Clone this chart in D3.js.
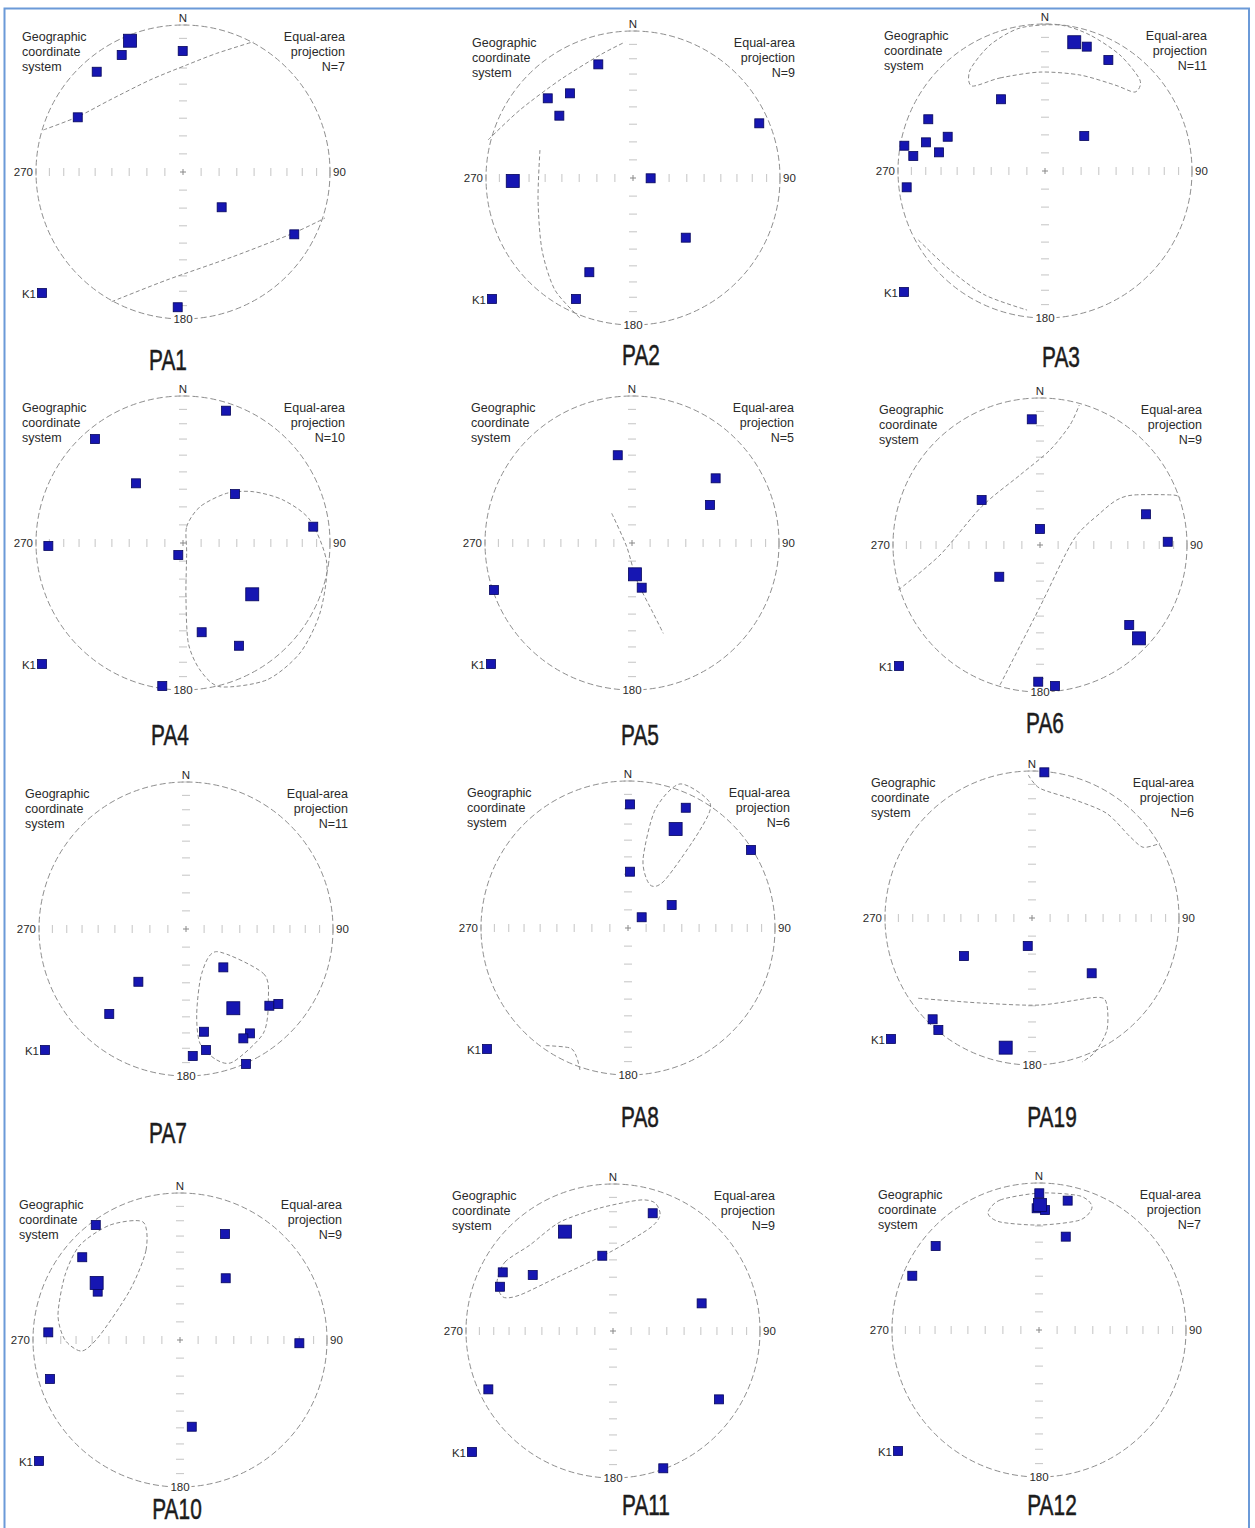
<!DOCTYPE html>
<html>
<head>
<meta charset="utf-8">
<script src="https://cdn.jsdelivr.net/npm/d3@7"></script>
<style>
  body { margin: 0; background: #fff; }
  svg { display: block; }
</style>
</head>
<body>
<script>
// ---------------------------------------------------------------
// AMS stereonets (lower hemisphere, equal-area) for twelve sites.
// Directions are stored as projected [east, north] coordinates,
// in units of the primitive-circle radius.
// ---------------------------------------------------------------

const siteNames    = ["PA1", "PA2", "PA3", "PA4", "PA5", "PA6", "PA7", "PA8", "PA19", "PA10", "PA11", "PA12"];
const sampleCounts = [7, 9, 11, 10, 5, 9, 11, 6, 6, 9, 9, 7];

// K1 axes of individual specimens and the site mean K1
const PA1_dirs = [[-0.417,0.796],[-0.002,0.823],[-0.587,0.682],[-0.716,0.372],[0.263,-0.240],[0.757,-0.424],[-0.036,-0.920]];
const PA1_mean = [-0.360, 0.893];
const PA2_dirs = [[-0.236,0.773],[-0.429,0.576],[-0.580,0.542],[-0.501,0.424],[0.859,0.372],[0.120,-0.002],[0.359,-0.406],[-0.297,-0.641],[-0.388,-0.823]];
const PA2_mean = [-0.818, -0.020];
const PA3_dirs = [[0.284,0.846],[0.431,0.755],[-0.299,0.488],[0.267,0.238],[-0.794,0.352],[-0.662,0.233],[-0.810,0.195],[-0.957,0.172],[-0.721,0.127],[-0.896,0.102],[-0.941,-0.111]];
const PA3_mean = [0.199, 0.876];
const PA4_dirs = [[0.293,0.900],[-0.599,0.707],[-0.320,0.406],[0.354,0.333],[0.886,0.111],[-0.916,-0.020],[-0.032,-0.082],[0.127,-0.607],[0.381,-0.699],[-0.141,-0.973]];
const PA4_mean = [0.471, -0.349];
const PA5_dirs = [[-0.097,0.597],[0.569,0.440],[0.531,0.259],[0.066,-0.304],[-0.939,-0.320]];
const PA5_mean = [0.020, -0.213];
const PA6_dirs = [[-0.056,0.855],[-0.397,0.306],[0.000,0.109],[0.721,0.209],[0.869,0.022],[-0.277,-0.216],[0.607,-0.544],[-0.012,-0.930],[0.102,-0.959]];
const PA6_mean = [0.673, -0.635];
const PA7_dirs = [[0.254,-0.261],[-0.324,-0.359],[-0.522,-0.578],[0.567,-0.522],[0.628,-0.510],[0.122,-0.699],[0.435,-0.710],[0.390,-0.744],[0.136,-0.823],[0.046,-0.864],[0.408,-0.918]];
const PA7_mean = [0.322, -0.539];
const PA8_dirs = [[0.014,0.841],[0.393,0.818],[0.837,0.531],[0.014,0.383],[0.297,0.156],[0.093,0.073]];
const PA8_mean = [0.324, 0.673];
const PA19_dirs = [[0.084,0.991],[-0.029,-0.190],[-0.463,-0.259],[0.406,-0.376],[-0.676,-0.689],[-0.637,-0.762]];
const PA19_mean = [-0.179, -0.882];
const PA10_dirs = [[-0.573,0.782],[0.306,0.721],[-0.665,0.563],[-0.560,0.329],[0.311,0.420],[-0.896,0.052],[0.812,-0.022],[-0.884,-0.265],[0.080,-0.590]];
const PA10_mean = [-0.567, 0.388];
const PA11_dirs = [[0.270,0.801],[-0.073,0.512],[-0.750,0.399],[-0.546,0.381],[-0.769,0.301],[0.603,0.188],[-0.848,-0.397],[0.721,-0.465],[0.342,-0.934]];
const PA11_mean = [-0.327, 0.676];
const PA12_dirs = [[0.002,0.930],[-0.016,0.828],[0.041,0.816],[0.195,0.880],[0.182,0.635],[-0.703,0.571],[-0.862,0.369]];
const PA12_mean = [0.007, 0.850];

// Confidence regions and great circles (closed = confidence ellipse)
const PA1_curves = [
  { closed: false, pts: [[-0.950,0.286],[-0.716,0.376],[-0.497,0.490],[-0.224,0.626],[0.025,0.728],[0.229,0.807],[0.478,0.886]] },
  { closed: false, pts: [[-0.485,-0.882],[-0.111,-0.735],[0.340,-0.576],[0.748,-0.417],[0.966,-0.313]] }
];
const PA2_curves = [
  { closed: false, pts: [[-0.986,0.259],[-0.769,0.463],[-0.497,0.667],[-0.224,0.837],[-0.054,0.925]] },
  { closed: false, pts: [[-0.633,0.190],[-0.646,-0.150],[-0.619,-0.490],[-0.531,-0.762],[-0.361,-0.952]] }
];
const PA3_curves = [
  { closed: true,  pts: [[-0.497,0.578],[-0.306,0.633],[-0.034,0.673],[0.238,0.653],[0.476,0.585],[0.612,0.537],[0.646,0.619],[0.510,0.789],[0.306,0.925],[0.102,0.993],[-0.170,0.973],[-0.374,0.857],[-0.510,0.687]] },
  { closed: false, pts: [[-0.862,-0.469],[-0.646,-0.673],[-0.408,-0.844],[-0.122,-0.946]] }
];
const PA4_curves = [
  { closed: true,  pts: [[0.025,-0.068],[0.025,0.111],[0.116,0.247],[0.297,0.338],[0.478,0.349],[0.680,0.293],[0.864,0.156],[0.978,-0.136],[0.932,-0.476],[0.796,-0.748],[0.569,-0.932],[0.252,-0.978],[0.116,-0.864],[0.036,-0.680],[0.020,-0.365]] }
];
const PA5_curves = [
  { closed: false, pts: [[-0.138,0.202],[-0.036,-0.025],[0.032,-0.252],[0.145,-0.479],[0.213,-0.615]] }
];
const PA6_curves = [
  { closed: false, pts: [[-0.964,-0.306],[-0.680,-0.068],[-0.397,0.261],[-0.136,0.476],[0.068,0.646],[0.204,0.816],[0.267,0.952]] },
  { closed: false, pts: [[-0.272,-0.952],[0.000,-0.420],[0.227,0.034],[0.408,0.216],[0.522,0.306],[0.635,0.340],[0.907,0.340],[0.952,0.318]] }
];
const PA7_curves = [
  { closed: true,  pts: [[0.209,-0.154],[0.526,-0.302],[0.560,-0.484],[0.526,-0.710],[0.322,-0.903],[0.209,-0.891],[0.095,-0.778],[0.073,-0.574],[0.107,-0.302]] }
];
const PA8_curves = [
  { closed: true,  pts: [[0.354,0.980],[0.558,0.850],[0.490,0.667],[0.252,0.327],[0.150,0.293],[0.102,0.463],[0.184,0.803]] },
  { closed: false, pts: [[-0.560,-0.800],[-0.395,-0.816],[-0.350,-0.876],[-0.327,-0.966]] }
];
const PA19_curves = [
  { closed: false, pts: [[-0.025,0.973],[0.054,0.882],[0.293,0.803],[0.508,0.712],[0.667,0.553],[0.757,0.481],[0.871,0.508]] },
  { closed: false, pts: [[-0.774,-0.546],[-0.354,-0.578],[0.054,-0.592],[0.440,-0.540],[0.508,-0.585],[0.510,-0.762],[0.429,-0.912],[0.340,-0.980]] }
];
const PA10_curves = [
  { closed: true,  pts: [[-0.252,0.803],[-0.231,0.612],[-0.340,0.340],[-0.544,0.034],[-0.667,-0.075],[-0.782,0.000],[-0.830,0.170],[-0.782,0.442],[-0.680,0.646],[-0.476,0.782]] }
];
const PA11_curves = [
  { closed: true,  pts: [[-0.789,0.333],[-0.735,0.469],[-0.565,0.585],[-0.361,0.741],[-0.088,0.837],[0.184,0.891],[0.286,0.871],[0.320,0.789],[0.252,0.701],[-0.020,0.537],[-0.361,0.374],[-0.633,0.245],[-0.748,0.231]] }
];
const PA12_curves = [
  { closed: true,  pts: [[-0.347,0.796],[-0.265,0.884],[0.007,0.932],[0.279,0.912],[0.361,0.837],[0.279,0.748],[0.007,0.714],[-0.265,0.735]] }
];

// Inclination ticks along the N-S and E-W diameters (degrees)
const inclinationTicks = [0, 10, 20, 30, 40, 50, 60, 70, 80];
const azimuthLabels = ["N", "90", "180", "270"];
const leftNote  = ["Geographic", "coordinate", "system"];
const rightNote = ["Equal-area", "projection"];

// ---------------- layout ----------------
const W = 1255, H = 1528, R = 147;
const panelCenters = [[183,172],[633,178],[1045,171],[183,543],[632,543],[1040,545],[186,929],[628,928],[1032,918],[180,1340],[613,1331],[1039,1330]];
const titleAnchors = [[168,370],[641,365],[1061,367],[170,745],[640,745],[1045,733],[168,1143],[640,1127],[1052,1127],[177,1519],[646,1515],[1052,1515]];

const dirsBySite   = [PA1_dirs, PA2_dirs, PA3_dirs, PA4_dirs, PA5_dirs, PA6_dirs, PA7_dirs, PA8_dirs, PA19_dirs, PA10_dirs, PA11_dirs, PA12_dirs];
const meanBySite   = [PA1_mean, PA2_mean, PA3_mean, PA4_mean, PA5_mean, PA6_mean, PA7_mean, PA8_mean, PA19_mean, PA10_mean, PA11_mean, PA12_mean];
const curvesBySite = [PA1_curves, PA2_curves, PA3_curves, PA4_curves, PA5_curves, PA6_curves, PA7_curves, PA8_curves, PA19_curves, PA10_curves, PA11_curves, PA12_curves];

const INK = "#2a2a2a";
const MARK_FILL = "#1616b2", MARK_EDGE = "#06065c";
const SMALL_FONT = "'Liberation Sans', Arial, sans-serif";
const TITLE_FONT = "'Liberation Sans', Arial, sans-serif";

// equal-area radius of a given inclination (primitive = 1)
const eaRadius = inc => Math.SQRT2 * Math.sin((90 - inc) / 2 * Math.PI / 180);

const svg = d3.select("body").append("svg")
  .attr("width", W).attr("height", H)
  .attr("viewBox", `0 0 ${W} ${H}`);

svg.append("rect").attr("width", W).attr("height", H).attr("fill", "#fff");

// outer frame
svg.append("rect")
  .attr("x", 4.5).attr("y", 8.5)
  .attr("width", 1244.5).attr("height", 1530)
  .attr("fill", "none").attr("stroke", "#6b9ad8").attr("stroke-width", 2);

siteNames.forEach((name, i) => {
  const [cx, cy] = panelCenters[i];
  const x = d3.scaleLinear().domain([-1, 1]).range([cx - R, cx + R]);
  const y = d3.scaleLinear().domain([-1, 1]).range([cy + R, cy - R]);
  const g = svg.append("g").attr("class", "stereonet").attr("id", name);

  // inclination ticks on both diameters
  const tickVals = [];
  inclinationTicks.forEach(t => { const r = eaRadius(t); tickVals.push(r, -r); });
  const ticks = g.append("g").attr("stroke", "#c4c4c4").attr("stroke-width", 1);
  ticks.selectAll("line.h").data(tickVals).join("line").attr("class", "h")
    .attr("x1", d => x(d)).attr("x2", d => x(d))
    .attr("y1", y(0) - 4).attr("y2", y(0) + 4);
  ticks.selectAll("line.v").data(tickVals).join("line").attr("class", "v")
    .attr("y1", d => y(d)).attr("y2", d => y(d))
    .attr("x1", x(0) - 4).attr("x2", x(0) + 4);
  // centre cross
  ticks.append("line").attr("x1", x(0) - 3).attr("x2", x(0) + 3).attr("y1", y(0)).attr("y2", y(0)).attr("stroke", "#888");
  ticks.append("line").attr("y1", y(0) - 3).attr("y2", y(0) + 3).attr("x1", x(0)).attr("x2", x(0)).attr("stroke", "#888");

  // primitive circle
  g.append("circle")
    .attr("cx", x(0)).attr("cy", y(0)).attr("r", x(1) - x(0))
    .attr("fill", "none").attr("stroke", "#8e8e8e").attr("stroke-width", 1)
    .attr("stroke-dasharray", "6,3");

  // confidence regions / planes
  curvesBySite[i].forEach(c => {
    const line = d3.line().x(d => x(d[0])).y(d => y(d[1]))
      .curve(c.closed ? d3.curveCardinalClosed.tension(0.2) : d3.curveCardinal.tension(0.2));
    g.append("path").attr("d", line(c.pts))
      .attr("fill", "none").attr("stroke", "#8a8a8a").attr("stroke-width", 1)
      .attr("stroke-dasharray", "4,2.5");
  });

  // azimuth labels
  const lab = g.append("g").attr("font-family", SMALL_FONT).attr("font-size", 11.5).attr("fill", INK);
  lab.append("text").text(azimuthLabels[0]).attr("x", x(0)).attr("y", y(1) - 3).attr("text-anchor", "middle");
  lab.append("text").text(azimuthLabels[1]).attr("x", x(1) + 3).attr("y", y(0) + 4).attr("text-anchor", "start");
  lab.append("text").text(azimuthLabels[2]).attr("x", x(0)).attr("y", y(-1) + 4).attr("text-anchor", "middle")
    .attr("stroke", "#fff").attr("stroke-width", 4).attr("paint-order", "stroke");
  lab.append("text").text(azimuthLabels[3]).attr("x", x(-1) - 3).attr("y", y(0) + 4).attr("text-anchor", "end");

  // corner notes
  const notes = g.append("g").attr("font-family", SMALL_FONT).attr("font-size", 12.5).attr("fill", INK);
  leftNote.forEach((s, k) => notes.append("text").text(s)
    .attr("x", cx - 161).attr("y", cy - 131 + k * 15));
  rightNote.concat([`N=${sampleCounts[i]}`]).forEach((s, k) => notes.append("text").text(s)
    .attr("x", cx + 162).attr("y", cy - 131 + k * 15).attr("text-anchor", "end"));

  // specimen K1 axes
  const s = 9, big = 13;
  g.selectAll("rect.spec").data(dirsBySite[i]).join("rect").attr("class", "spec")
    .attr("x", d => x(d[0]) - s / 2).attr("y", d => y(d[1]) - s / 2)
    .attr("width", s).attr("height", s)
    .attr("fill", MARK_FILL).attr("stroke", MARK_EDGE).attr("stroke-width", 0.8);
  // site mean K1
  g.selectAll("rect.mean").data([meanBySite[i]]).join("rect").attr("class", "mean")
    .attr("x", d => x(d[0]) - big / 2).attr("y", d => y(d[1]) - big / 2)
    .attr("width", big).attr("height", big)
    .attr("fill", MARK_FILL).attr("stroke", MARK_EDGE).attr("stroke-width", 0.8);

  // legend
  g.append("rect").attr("x", cx - 141 - s / 2).attr("y", cy + 121 - s / 2)
    .attr("width", s).attr("height", s)
    .attr("fill", MARK_FILL).attr("stroke", MARK_EDGE).attr("stroke-width", 0.8);
  g.append("text").text("K1").attr("x", cx - 147).attr("y", cy + 125.5)
    .attr("text-anchor", "end").attr("font-family", SMALL_FONT).attr("font-size", 11.5).attr("fill", INK);

  // site title, set in a condensed face
  const [tx, ty] = titleAnchors[i];
  g.append("text").text(name)
    .attr("transform", `translate(${tx},${ty}) scale(0.72,1)`)
    .attr("text-anchor", "middle").attr("font-family", TITLE_FONT)
    .attr("font-size", 29).attr("fill", "#1c1c1c")
    .attr("stroke", "#1c1c1c").attr("stroke-width", 0.5);
});
</script>
</body>
</html>
